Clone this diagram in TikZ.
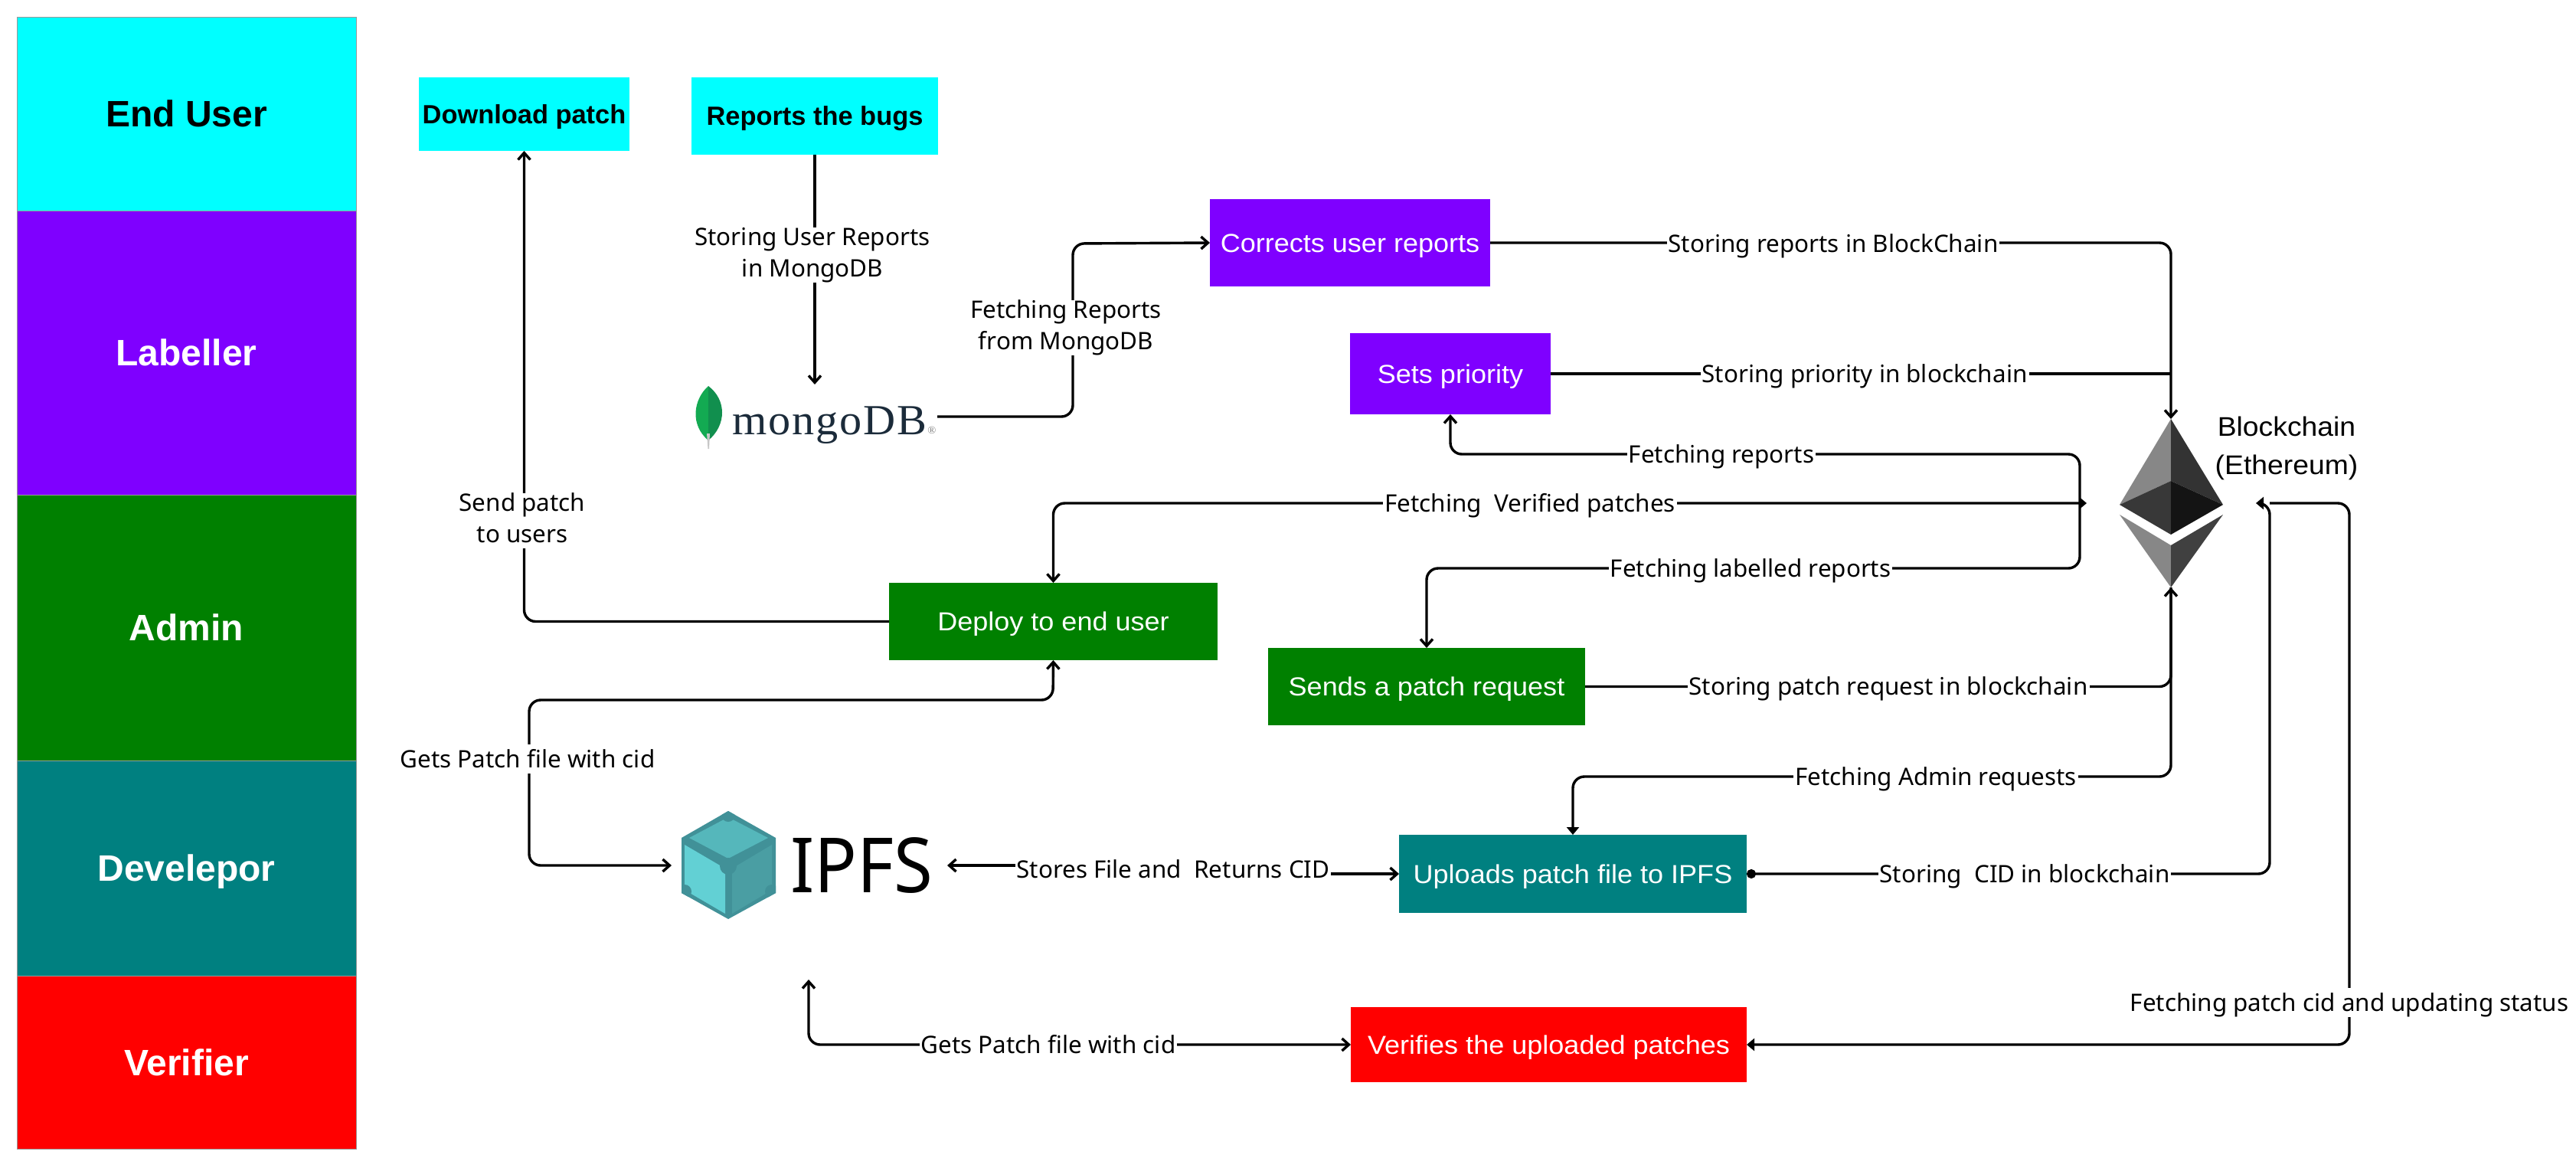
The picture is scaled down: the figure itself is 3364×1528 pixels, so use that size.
\documentclass[tikz,border=0pt]{standalone}
\usepackage{fontspec}
\setmainfont[FakeStretch=1.06]{Liberation Sans}
\newfontfamily\lanefont{Liberation Sans}
\newfontfamily\labelfont{Noto Sans}
\newfontfamily\mongofont[LetterSpace=3.5,FakeStretch=1.04]{Liberation Serif}
\newfontfamily\ipfsfont[FakeStretch=0.93]{Noto Sans}
\usetikzlibrary{arrows.meta}
\definecolor{cyanlane}{HTML}{00FFFF}
\definecolor{purplelane}{HTML}{7F00FF}
\definecolor{greenlane}{HTML}{008000}
\definecolor{teallane}{HTML}{008080}
\definecolor{redlane}{HTML}{FF0000}
\definecolor{leafa}{RGB}{19,170,82}
\definecolor{leafb}{RGB}{17,143,78}
\definecolor{mongoink}{RGB}{27,43,58}
\definecolor{cubeedge}{RGB}{65,145,152}
\definecolor{cubetop}{RGB}{85,183,187}
\definecolor{cubeleft}{RGB}{98,208,212}
\definecolor{cuberight}{RGB}{74,158,163}
\newcommand\rectnode[8]{%
  \pgfmathsetmacro\rw{(#4-#2)*0.5}%
  \pgfmathsetmacro\rh{(#5-#3)*0.5}%
  \node[rect, fill=#6, #7, minimum width=\rw pt, minimum height=\rh pt] (#1) at ({(#2+#4)/2},{(#3+#5)/2}) {#8};}
\newcommand\fs[1]{\fontsize{#1}{20.5}\selectfont}
\newcommand\lblstrut{\rule[-4pt]{0pt}{19pt}}
\tikzset{
  rect/.style={inner sep=0pt, outer sep=0pt, align=center},
  lanebox/.style={draw=black!40, line width=0.25pt, font=\lanefont\fs{24}\bfseries, text height=22pt, text depth=4.8pt},
  boldbox/.style={font=\lanefont\fs{17.2}\bfseries, text=black, text height=17pt, text depth=4.8pt},
  stepbox/.style={font=\fs{17}, text=white, text height=17pt, text depth=4.8pt},
  open/.tip={Straight Barb[length=4.5pt,width=8pt,line width=1.7pt]},
  solid/.tip={Triangle[length=5pt,width=8pt]},
  plain/.style={line width=1.7pt, rounded corners=7.5pt},
  conn/.style={plain, -open},
  lbl/.style={fill=white, inner xsep=1pt, inner ysep=0pt, align=center, font=\labelfont\fs{15.7}, text=black,
    execute at begin node=\lblstrut, execute at end node=\lblstrut},
}
\begin{document}
\begin{tikzpicture}[x=0.5pt,y=-0.5pt]
\useasboundingbox (0,0) rectangle (3364,1528);
\fill[white] (0,0) rectangle (3364,1528);
% lanes
\rectnode{laneA}{22}{22}{465}{275}{cyanlane}{lanebox,text=black}{End User}
\rectnode{laneB}{22}{275}{465}{646}{purplelane}{lanebox,text=white}{Labeller}
\rectnode{laneC}{22}{646}{465}{993}{greenlane}{lanebox,text=white}{Admin}
\rectnode{laneD}{22}{993}{465}{1274}{teallane}{lanebox,text=white}{Develepor}
\rectnode{laneE}{22}{1274}{465}{1500}{redlane}{lanebox,text=white}{Verifier}
% boxes
\rectnode{download}{547}{101}{822}{197}{cyanlane}{boldbox}{Download patch}
\rectnode{bugs}{903}{101}{1225}{202}{cyanlane}{boldbox}{Reports the bugs}
\rectnode{corrects}{1580}{260}{1946}{374}{purplelane}{stepbox}{Corrects user reports}
\rectnode{priority}{1763}{435}{2025}{541}{purplelane}{stepbox}{Sets priority}
\rectnode{deploy}{1161}{761}{1590}{862}{greenlane}{stepbox}{Deploy to end user}
\rectnode{request}{1656}{846}{2070}{947}{greenlane}{stepbox}{Sends a patch request}
\rectnode{uploads}{1827}{1090}{2281}{1192}{teallane}{stepbox}{Uploads patch file to IPFS}
\rectnode{verifies}{1764}{1315}{2281}{1413}{redlane}{stepbox}{Verifies the uploaded patches}
% ethereum
\fill[black!47] (2835,547) -- (2768,659) -- (2835,628) -- cycle;
\fill[black!80] (2835,547) -- (2903,659) -- (2835,628) -- cycle;
\fill[black!78] (2768,659) -- (2835,628) -- (2835,698) -- cycle;
\fill[black!92] (2903,659) -- (2835,628) -- (2835,698) -- cycle;
\fill[black!47] (2768,672) -- (2835,712) -- (2835,767) -- cycle;
\fill[black!75] (2903,672) -- (2835,712) -- (2835,767) -- cycle;
\coordinate (ethtop) at (2835,547);
\coordinate (ethbottom) at (2835,767);
\coordinate (ethright) at (2946,657);
\coordinate (ethleft) at (2725,657);
\node[inner sep=0pt, align=center, font=\fontsize{17.6}{25}\selectfont, text=black] (ethlabel) at (2986,585) {Blockchain\\(Ethereum)};
% mongodb
\fill[leafa] (925,504) .. controls (905,522) and (901,555) .. (925,575) -- cycle;
\fill[leafb] (925,504) .. controls (949,522) and (949,555) .. (925,575) -- cycle;
\fill[black!22] (923,566) -- (927,566) -- (926,586) -- (924.5,586) -- cycle;
\node[inner sep=0pt, anchor=base west, text=mongoink, font=\mongofont\fontsize{28}{28}\selectfont] (mongo) at (956,567) {mongoDB};
\node[inner sep=0pt, text=black!50, font=\mongofont\fontsize{7}{7}\selectfont] (mongoreg) at (1217,562) {®};
\coordinate (mongoout) at (1224,544);
\coordinate (mongoin) at (1064,502);
% ipfs
\fill[cubeedge] (951,1059) -- (1013,1094) -- (1013,1166) -- (951,1200) -- (890,1166) -- (890,1094) -- cycle;
\fill[cubetop] (951,1067) -- (1003,1094) -- (951,1121) -- (900,1094) -- cycle;
\fill[cubeleft] (894,1103) -- (947,1134) -- (947,1193) -- (894,1162) -- cycle;
\fill[cuberight] (1008,1103) -- (956,1134) -- (956,1193) -- (1008,1162) -- cycle;
\begin{scope}
\clip (951,1059) -- (1013,1094) -- (1013,1166) -- (951,1200) -- (890,1166) -- (890,1094) -- cycle;
\fill[cubeedge] (951,1131) circle (11) (951,1064) circle (9) (894,1164) circle (9) (1008,1164) circle (9);
\end{scope}
\node[inner sep=0pt, anchor=base west, text=black, font=\ipfsfont\fontsize{49.7}{50}\selectfont] (ipfs) at (1032,1165) {IPFS};
\coordinate (ipfsleft) at (877,1130);
\coordinate (ipfsright) at (1237,1130);
\coordinate (ipfsbottom) at (1056,1279);
% connector helper points
\coordinate (mongobend) at (1401,318);
\coordinate (reportsr) at (2716,593);
\coordinate (labelledr) at (2716,742);
\coordinate (adminr) at (2835,1014);
\coordinate (cidup) at (2964,1141);
\coordinate (cidtop) at (2964,657);
\coordinate (statusr) at (3068,657);
\coordinate (statusb) at (3068,1364);
\coordinate (gpa) at (1375,914);
\coordinate (gpb) at (691,914);
\coordinate (gpc) at (691,1130);
\coordinate (midA) at (1532,1130);
\coordinate (midB) at (1532,1141);
% connectors
\draw[conn] (bugs.south) -- (mongoin);
\draw[conn] (mongoout) -| (mongobend) -- (corrects.west);
\draw[conn] (deploy.west) -| (download.south);
\draw[conn] (corrects.east) -| (ethtop);
\draw[plain] (priority.east) -- (ethtop |- priority.east);
\draw[plain, open-open] (priority.south) |- (reportsr) -- (labelledr) -| (request.north);
\draw[plain, solid-open] (ethleft) -| (deploy.north);
\draw[conn] (request.east) -| (ethbottom);
\draw[plain, -solid] (ethbottom) -- (adminr) -| (uploads.north);
\draw[plain, {Circle[length=6pt]}-solid] (uploads.east) -- (cidup) -- (cidtop) -- (ethright);
\draw[plain, -solid] (cidtop) -- (statusr) -- (statusb) -- (verifies.east |- statusb);
\draw[plain, open-open] (deploy.south) -- (gpa) -- (gpb) -- (gpc) -- (ipfsleft);
\draw[line width=1.7pt, open-open] (ipfsright) -- (midA) -- (midB) -- (uploads.west);
\draw[plain, open-open] (ipfsbottom) |- (verifies.west |- statusb);
% labels
\node[lbl] (l1) at (1061,333) {Storing User Reports\\in MongoDB};
\node[lbl] (l2) at (1392,428) {Fetching Reports\\from MongoDB};
\node[lbl] (l3) at (682,680) {Send patch\\to users};
\node[lbl] (l4) at (2394,318) {Storing reports in BlockChain};
\node[lbl] (l5) at (2435,488) {Storing priority in blockchain};
\node[lbl] (l6) at (2248,593) {Fetching reports};
\node[lbl] (l7) at (1998,657) {Fetching~ Verified patches};
\node[lbl] (l8) at (2286,742) {Fetching labelled reports};
\node[lbl] (l9) at (2466,896) {Storing patch request in blockchain};
\node[lbl] (l10) at (2528,1014) {Fetching Admin requests};
\node[lbl] (l11) at (2644,1141) {Storing~ CID in blockchain};
\node[lbl] (l12) at (3068,1309) {Fetching patch cid and updating status};
\node[lbl] (l13) at (689,991) {Gets Patch file with cid};
\node[lbl] (l14) at (1532,1135) {Stores File and~ Returns CID};
\node[lbl] (l15) at (1369,1364) {Gets Patch file with cid};
\end{tikzpicture}
\end{document}
